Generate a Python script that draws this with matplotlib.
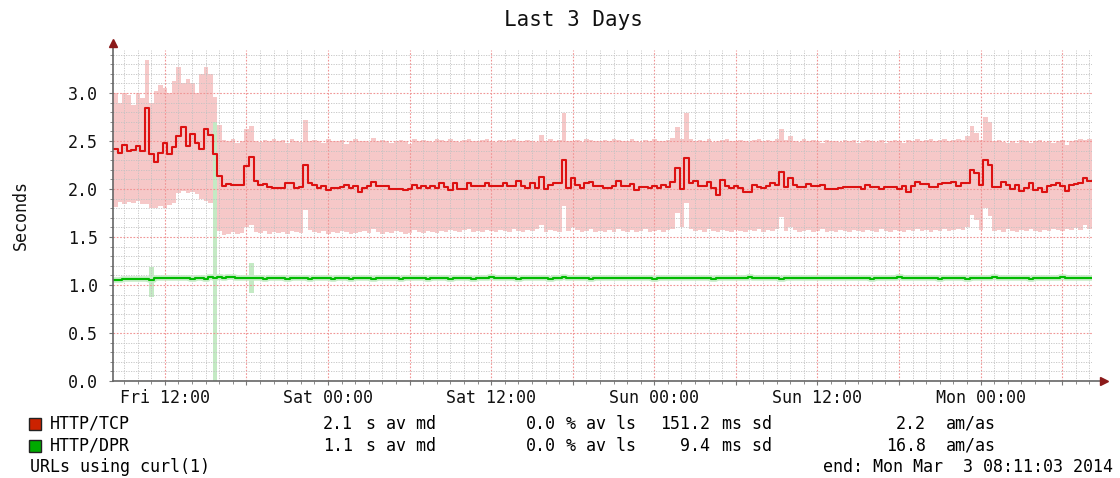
import numpy as np
import matplotlib
matplotlib.use("Agg")
import matplotlib.pyplot as plt
from matplotlib.patches import Rectangle
from matplotlib.ticker import MultipleLocator, FixedLocator, FuncFormatter

# time axis: hours since Fri 00:00, one sample every 20 minutes
start_hour = 8.19
step_hours = 1.0 / 3.0

x_tick_hours = [12, 24, 36, 48, 60, 72]
x_tick_labels = ['Fri 12:00', 'Sat 00:00', 'Sat 12:00', 'Sun 00:00', 'Sun 12:00', 'Mon 00:00']

# HTTP/TCP median and smoke envelope (seconds)
tcp_median = [
    2.42, 2.38, 2.46, 2.40, 2.41, 2.45, 2.40, 2.84, 2.36, 2.28, 2.38, 2.48, 2.36, 2.44, 2.55, 2.65, 2.45, 2.57,
    2.48, 2.42, 2.62, 2.56, 2.36, 2.14, 2.03, 2.05, 2.04, 2.04, 2.04, 2.24, 2.33, 2.08, 2.04, 2.05, 2.02, 2.01,
    2.01, 2.01, 2.06, 2.06, 2.01, 2.02, 2.25, 2.06, 2.04, 2.01, 2.03, 1.99, 2.01, 2.01, 2.02, 2.04, 2.01, 2.03,
    1.97, 2.01, 2.03, 2.07, 2.03, 2.03, 2.03, 2.00, 2.00, 2.00, 1.99, 2.00, 2.04, 2.01, 2.03, 2.01, 2.03, 2.01,
    2.06, 2.02, 1.99, 2.06, 2.00, 2.00, 2.06, 2.03, 2.03, 2.03, 2.06, 2.03, 2.03, 2.03, 2.06, 2.03, 2.03, 2.08,
    2.03, 2.01, 2.06, 2.01, 2.13, 2.00, 2.04, 2.06, 2.06, 2.30, 2.01, 2.11, 2.04, 2.01, 2.06, 2.07, 2.03, 2.03,
    2.01, 2.01, 2.03, 2.08, 2.03, 2.03, 2.05, 1.99, 2.02, 2.02, 2.01, 2.03, 2.01, 2.04, 2.02, 2.07, 2.22, 2.00,
    2.32, 2.06, 2.08, 2.03, 2.03, 2.07, 2.01, 1.94, 2.09, 2.03, 2.01, 2.03, 2.01, 1.97, 1.97, 2.04, 2.02, 2.01,
    2.03, 2.06, 2.04, 2.18, 2.02, 2.11, 2.04, 2.02, 2.02, 2.05, 2.03, 2.03, 2.04, 2.00, 2.00, 2.00, 2.01, 2.02,
    2.02, 2.02, 2.02, 2.00, 2.04, 2.02, 2.02, 2.00, 2.02, 2.02, 2.02, 2.00, 2.03, 1.97, 2.03, 2.07, 2.05, 2.05,
    2.02, 2.02, 2.05, 2.06, 2.06, 2.07, 2.03, 2.06, 2.06, 2.20, 2.17, 2.04, 2.30, 2.25, 2.02, 2.02, 2.07, 2.04,
    2.00, 2.04, 1.98, 2.01, 2.06, 1.99, 2.01, 1.97, 2.03, 2.04, 2.06, 2.03, 1.98, 2.04, 2.05, 2.06, 2.11, 2.08,
]
tcp_upper = [
    3.00, 2.90, 3.00, 2.98, 2.88, 3.00, 2.95, 3.34, 2.90, 3.02, 3.08, 3.05, 3.00, 3.13, 3.27, 3.10, 3.15, 3.10,
    3.00, 3.20, 3.27, 3.20, 2.96, 2.67, 2.51, 2.50, 2.52, 2.48, 2.50, 2.62, 2.66, 2.50, 2.49, 2.51, 2.50, 2.52,
    2.50, 2.51, 2.48, 2.52, 2.50, 2.49, 2.72, 2.50, 2.51, 2.50, 2.48, 2.52, 2.50, 2.50, 2.51, 2.47, 2.50, 2.52,
    2.50, 2.50, 2.49, 2.53, 2.50, 2.51, 2.50, 2.48, 2.50, 2.51, 2.50, 2.47, 2.52, 2.50, 2.51, 2.50, 2.49, 2.52,
    2.51, 2.50, 2.52, 2.50, 2.49, 2.51, 2.52, 2.50, 2.50, 2.51, 2.52, 2.50, 2.49, 2.51, 2.50, 2.51, 2.52, 2.50,
    2.50, 2.51, 2.50, 2.49, 2.56, 2.50, 2.52, 2.50, 2.51, 2.79, 2.50, 2.50, 2.51, 2.49, 2.52, 2.51, 2.50, 2.50,
    2.51, 2.50, 2.52, 2.51, 2.50, 2.50, 2.52, 2.50, 2.49, 2.51, 2.50, 2.52, 2.50, 2.50, 2.51, 2.53, 2.65, 2.52,
    2.79, 2.52, 2.50, 2.51, 2.50, 2.52, 2.49, 2.50, 2.51, 2.52, 2.50, 2.50, 2.51, 2.50, 2.49, 2.51, 2.52, 2.50,
    2.51, 2.50, 2.52, 2.63, 2.51, 2.55, 2.50, 2.49, 2.52, 2.50, 2.51, 2.50, 2.48, 2.51, 2.50, 2.50, 2.49, 2.51,
    2.50, 2.51, 2.48, 2.50, 2.51, 2.50, 2.49, 2.51, 2.48, 2.50, 2.51, 2.50, 2.48, 2.51, 2.50, 2.52, 2.50, 2.51,
    2.52, 2.50, 2.51, 2.52, 2.50, 2.51, 2.52, 2.51, 2.55, 2.66, 2.58, 2.51, 2.75, 2.70, 2.50, 2.51, 2.49, 2.48,
    2.50, 2.48, 2.51, 2.50, 2.48, 2.50, 2.51, 2.49, 2.50, 2.48, 2.50, 2.51, 2.46, 2.50, 2.51, 2.52, 2.51, 2.52,
]
tcp_lower = [
    1.81, 1.86, 1.84, 1.86, 1.85, 1.87, 1.84, 1.84, 1.80, 1.80, 1.82, 1.80, 1.83, 1.85, 1.96, 1.98, 1.96, 1.97,
    1.95, 1.90, 1.88, 1.85, 1.78, 1.56, 1.52, 1.53, 1.55, 1.53, 1.54, 1.60, 1.62, 1.55, 1.54, 1.56, 1.53, 1.55,
    1.54, 1.55, 1.53, 1.56, 1.55, 1.54, 1.78, 1.57, 1.55, 1.54, 1.56, 1.53, 1.55, 1.54, 1.56, 1.55, 1.53, 1.54,
    1.55, 1.56, 1.54, 1.58, 1.55, 1.53, 1.55, 1.54, 1.56, 1.55, 1.53, 1.54, 1.57, 1.55, 1.54, 1.56, 1.55, 1.54,
    1.56, 1.55, 1.57, 1.56, 1.55, 1.57, 1.58, 1.55, 1.56, 1.55, 1.57, 1.56, 1.55, 1.57, 1.56, 1.55, 1.58, 1.56,
    1.55, 1.57, 1.56, 1.58, 1.63, 1.55, 1.57, 1.56, 1.55, 1.82, 1.56, 1.60, 1.57, 1.55, 1.56, 1.58, 1.55, 1.56,
    1.55, 1.57, 1.55, 1.58, 1.56, 1.55, 1.57, 1.55, 1.56, 1.58, 1.55, 1.56, 1.57, 1.55, 1.57, 1.58, 1.75, 1.60,
    1.85, 1.58, 1.56, 1.57, 1.55, 1.58, 1.56, 1.55, 1.57, 1.56, 1.55, 1.57, 1.56, 1.55, 1.57, 1.56, 1.58, 1.55,
    1.57, 1.56, 1.58, 1.71, 1.56, 1.60, 1.57, 1.55, 1.56, 1.57, 1.55, 1.56, 1.58, 1.55, 1.56, 1.55, 1.57, 1.56,
    1.55, 1.57, 1.56, 1.55, 1.57, 1.56, 1.55, 1.58, 1.56, 1.55, 1.57, 1.56, 1.55, 1.57, 1.56, 1.58, 1.56, 1.57,
    1.55, 1.57, 1.56, 1.58, 1.56, 1.57, 1.58, 1.57, 1.60, 1.73, 1.68, 1.57, 1.80, 1.72, 1.56, 1.57, 1.55, 1.58,
    1.56, 1.55, 1.57, 1.56, 1.58, 1.56, 1.55, 1.57, 1.56, 1.58, 1.57, 1.56, 1.58, 1.57, 1.59, 1.57, 1.63, 1.58,
]

# HTTP/DPR median (seconds) and the few samples with a wide spread
dpr_median = [
    1.05, 1.05, 1.06, 1.06, 1.06, 1.06, 1.06, 1.06, 1.05, 1.07, 1.07, 1.07, 1.07, 1.07, 1.07, 1.07, 1.07, 1.06,
    1.07, 1.07, 1.06, 1.08, 1.07, 1.08, 1.07, 1.08, 1.08, 1.07, 1.07, 1.07, 1.07, 1.07, 1.07, 1.06, 1.07, 1.07,
    1.07, 1.07, 1.06, 1.07, 1.07, 1.07, 1.07, 1.06, 1.07, 1.07, 1.07, 1.07, 1.06, 1.07, 1.07, 1.07, 1.06, 1.07,
    1.07, 1.07, 1.07, 1.06, 1.07, 1.07, 1.07, 1.07, 1.07, 1.06, 1.07, 1.07, 1.07, 1.07, 1.07, 1.06, 1.07, 1.07,
    1.07, 1.07, 1.06, 1.07, 1.07, 1.07, 1.07, 1.06, 1.07, 1.07, 1.07, 1.08, 1.07, 1.07, 1.07, 1.07, 1.07, 1.06,
    1.07, 1.07, 1.07, 1.07, 1.07, 1.07, 1.06, 1.07, 1.07, 1.08, 1.07, 1.07, 1.07, 1.07, 1.07, 1.06, 1.07, 1.07,
    1.07, 1.07, 1.07, 1.07, 1.07, 1.07, 1.07, 1.07, 1.07, 1.07, 1.07, 1.06, 1.07, 1.07, 1.07, 1.07, 1.07, 1.07,
    1.07, 1.07, 1.07, 1.07, 1.07, 1.07, 1.06, 1.07, 1.07, 1.07, 1.07, 1.07, 1.07, 1.07, 1.08, 1.07, 1.07, 1.07,
    1.07, 1.07, 1.07, 1.06, 1.07, 1.07, 1.07, 1.07, 1.07, 1.07, 1.07, 1.07, 1.07, 1.07, 1.07, 1.07, 1.07, 1.07,
    1.07, 1.07, 1.07, 1.07, 1.07, 1.06, 1.07, 1.07, 1.07, 1.07, 1.07, 1.08, 1.07, 1.07, 1.07, 1.07, 1.07, 1.07,
    1.07, 1.07, 1.06, 1.07, 1.07, 1.07, 1.07, 1.07, 1.06, 1.07, 1.07, 1.07, 1.07, 1.07, 1.08, 1.07, 1.07, 1.07,
    1.07, 1.07, 1.07, 1.07, 1.06, 1.07, 1.07, 1.07, 1.07, 1.07, 1.07, 1.08, 1.07, 1.07, 1.07, 1.07, 1.07, 1.07,
]
dpr_spike_index = [8, 22, 30]
dpr_spike_low = [0.87, 0.00, 0.92]
dpr_spike_high = [1.19, 2.70, 1.23]

# legend statistics
legend_names = ['HTTP/TCP', 'HTTP/DPR']
legend_colors = ['#cc2200', '#00aa00']
median_avg = ['2.1', '1.1']
loss_avg = ['0.0', '0.0']
sd_ms = ['151.2', '9.4']
am_as = ['2.2', '16.8']

W, H = 1120, 478
MONO = 'DejaVu Sans Mono'
plt.rcParams['font.family'] = MONO
FS = 12


def fx(px):
    return px / W


def fy(py):
    return 1 - py / H


fig = plt.figure(figsize=(W / 100, H / 100), dpi=100)
ax = fig.add_axes([fx(113), fy(381), (1092 - 113) / W, (381 - 50) / H])

n = len(tcp_median)
edges = start_hour + np.arange(n + 1) * step_hours


def stepped(vals):
    return np.append(vals, vals[-1])


# smoke band and median for TCP
ax.fill_between(edges, stepped(tcp_lower), stepped(tcp_upper), step='post',
                color='#f6c8c8', linewidth=0, zorder=1)
ax.step(edges, stepped(tcp_median), where='post', color='#dd1111', lw=1.5, zorder=4)

# DPR: light smoke + median
for idx, lo, hi in zip(dpr_spike_index, dpr_spike_low, dpr_spike_high):
    ax.fill_between(edges[idx:idx + 2], lo, hi, color='#c4eac4', linewidth=0, zorder=1.2)
ax.step(edges, stepped(dpr_median), where='post', color='#c6ecc6', lw=4, zorder=3)
ax.step(edges, stepped(dpr_median), where='post', color='#00bb00', lw=1.5, zorder=4)

ax.set_xlim(start_hour, start_hour + n * step_hours)
ax.set_ylim(0, 331 / 96)

# grid: gray minor, red major
ax.xaxis.set_major_locator(MultipleLocator(6))
ax.xaxis.set_minor_locator(MultipleLocator(1))
ax.yaxis.set_major_locator(FixedLocator([0, 0.5, 1.0, 1.5, 2.0, 2.5, 3.0]))
ax.yaxis.set_minor_locator(MultipleLocator(0.1))
ax.set_axisbelow(False)
ax.grid(which='minor', color='#c2c2c2', linestyle=(0, (1.5, 1.5)), lw=0.6)
ax.grid(which='major', color='#f09494', linestyle=(0, (1.5, 1.5)), lw=0.8)

labels = dict(zip(x_tick_hours, x_tick_labels))
ax.xaxis.set_major_formatter(FuncFormatter(lambda v, p: labels.get(int(round(v)), '')))
ax.yaxis.set_major_formatter(FuncFormatter(lambda v, p: '%.1f' % v))

ax.tick_params(which='both', direction='out', color='#777777', labelsize=FS, labelcolor='#111111')
ax.tick_params(which='major', length=3, width=0.8)
ax.tick_params(which='minor', length=2, width=0.6)
ax.tick_params(axis='x', which='major', pad=3)
ax.tick_params(axis='y', which='major', pad=8)

for s in ax.spines.values():
    s.set_visible(False)

# axis lines with arrow heads
ax.plot([0, 0], [0, 1.02], transform=ax.transAxes, clip_on=False, color='#666666', lw=1.2, zorder=5)
ax.plot([0, 1.012], [0, 0], transform=ax.transAxes, clip_on=False, color='#666666', lw=1.2, zorder=5)
ax.plot([0], [1.02], marker='^', ms=6, color='#8b1a1a', transform=ax.transAxes, clip_on=False, zorder=6)
ax.plot([1.012], [0], marker='>', ms=6, color='#8b1a1a', transform=ax.transAxes, clip_on=False, zorder=6)

fig.text(fx(573), fy(20), 'Last 3 Days', ha='center', va='center', fontsize=15, color='#111111')
fig.text(fx(21), fy(215), 'Seconds', ha='center', va='center', rotation=90, fontsize=FS, color='#111111')

# legend rows
row_y = [424, 446]
for k in range(len(legend_names)):
    y = fy(row_y[k])
    fig.patches.append(Rectangle((fx(29), fy(row_y[k] + 6)), 12 / W, 12 / H, transform=fig.transFigure,
                                 facecolor=legend_colors[k], edgecolor='#222222', lw=1))
    fig.text(fx(50), y, legend_names[k], va='center', fontsize=FS)
    fig.text(fx(353), y, median_avg[k], va='center', ha='right', fontsize=FS)
    fig.text(fx(366), y, 's av md', va='center', fontsize=FS)
    fig.text(fx(556), y, loss_avg[k], va='center', ha='right', fontsize=FS)
    fig.text(fx(566), y, '% av ls', va='center', fontsize=FS)
    fig.text(fx(710), y, sd_ms[k], va='center', ha='right', fontsize=FS)
    fig.text(fx(722), y, 'ms sd', va='center', fontsize=FS)
    fig.text(fx(926), y, am_as[k], va='center', ha='right', fontsize=FS)
    fig.text(fx(946), y, 'am/as', va='center', fontsize=FS)

fig.text(fx(30), fy(467), 'URLs using curl(1)', va='center', fontsize=FS)
fig.text(fx(1113), fy(467), 'end: Mon Mar  3 08:11:03 2014', va='center', ha='right', fontsize=FS)

fig.savefig('out.png', dpi=100)
